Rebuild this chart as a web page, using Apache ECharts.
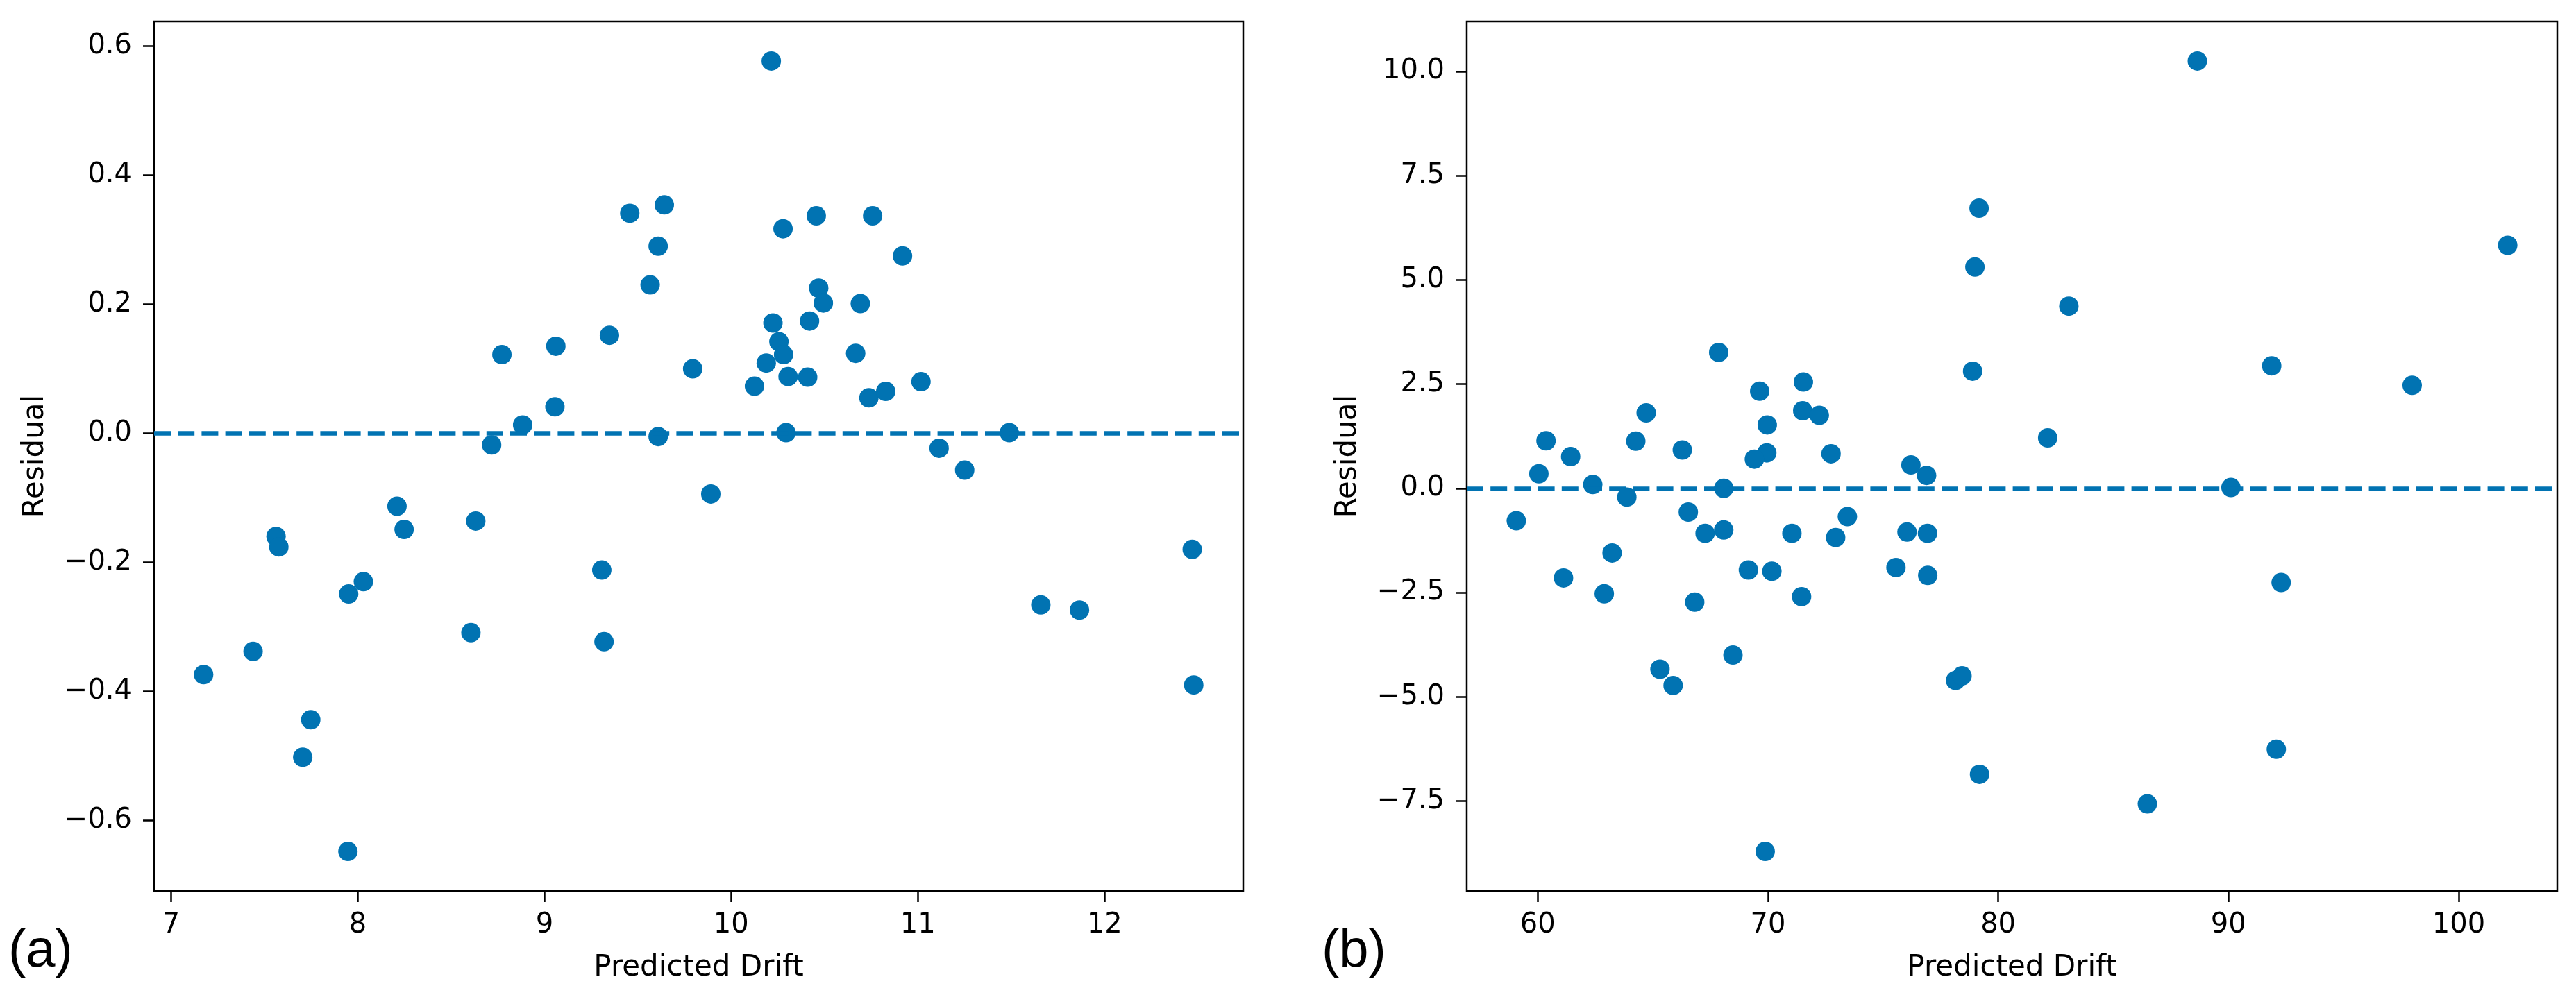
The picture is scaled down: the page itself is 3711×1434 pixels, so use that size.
<!DOCTYPE html>
<html>
<head>
<meta charset="utf-8">
<title>Residual plots</title>
<script src="https://cdn.jsdelivr.net/npm/echarts@6/dist/echarts.min.js"></script>
<style>
  html, body { margin: 0; padding: 0; background: #fff; }
  #main { width: 3711px; height: 1434px; }
</style>
</head>
<body>
<div id="main"></div>
<script>
// (a) predicted drift vs residual
var predA = [8.772, 9.061, 8.883, 9.056, 8.717, 9.348, 9.457, 9.642, 9.609, 9.566,
  9.609, 10.215, 10.278, 10.456, 10.758, 10.918, 10.469, 10.494, 10.692, 10.224,
  10.42, 10.256, 10.281, 10.188, 9.794, 10.305, 10.41, 10.125, 10.667, 11.017,
  10.738, 10.828, 10.294, 11.49, 11.114, 11.251, 9.891, 12.47, 11.659, 11.866,
  12.478, 8.21, 8.248, 8.632, 7.562, 7.577, 9.307, 8.03, 7.951, 8.606,
  9.319, 7.439, 7.174, 7.748, 7.705, 7.947];
var residA = [0.122, 0.135, 0.013, 0.041, -0.018, 0.152, 0.341, 0.354, 0.290, 0.230,
  -0.005, 0.577, 0.317, 0.337, 0.337, 0.275, 0.225, 0.202, 0.201, 0.171,
  0.174, 0.142, 0.122, 0.109, 0.100, 0.088, 0.087, 0.073, 0.124, 0.080,
  0.055, 0.065, 0.001, 0.001, -0.023, -0.057, -0.094, -0.180, -0.266, -0.274,
  -0.390, -0.113, -0.149, -0.136, -0.160, -0.176, -0.212, -0.230, -0.249, -0.309,
  -0.323, -0.338, -0.374, -0.444, -0.502, -0.648];

// (b)
var predB = [67.86, 71.54, 69.64, 64.71, 71.51, 72.23, 69.97, 60.36, 64.26, 66.28,
  61.43, 69.95, 69.41, 72.74, 60.05, 76.21, 76.89, 62.39, 63.87, 68.08,
  59.07, 66.54, 67.27, 68.08, 71.04, 72.94, 73.45, 76.04, 76.93, 75.56,
  76.94, 63.23, 61.12, 69.15, 70.17, 62.89, 66.82, 71.46, 68.48, 65.31,
  65.88, 69.88, 88.65, 79.17, 78.99, 102.13, 83.07, 78.89, 91.88, 97.98,
  82.15, 90.11, 92.29, 78.15, 78.43, 79.19, 92.08, 86.48];
var residB = [3.26, 2.55, 2.33, 1.81, 1.86, 1.75, 1.52, 1.14, 1.13, 0.92,
  0.76, 0.85, 0.70, 0.83, 0.35, 0.56, 0.31, 0.09, -0.21, 0.0,
  -0.78, -0.57, -1.08, -1.0, -1.08, -1.18, -0.68, -1.05, -1.08, -1.90,
  -2.09, -1.55, -2.15, -1.96, -1.99, -2.53, -2.73, -2.60, -4.0, -4.34,
  -4.73, -8.71, 10.25, 6.72, 5.31, 5.83, 4.37, 2.81, 2.94, 2.47,
  1.21, 0.02, -2.26, -4.61, -4.50, -6.86, -6.26, -7.57];

var xTicksA = [7, 8, 9, 10, 11, 12];
var yTicksA = [-0.6, -0.4, -0.2, 0, 0.2, 0.4, 0.6];
var xTicksB = [60, 70, 80, 90, 100];
var yTicksB = [-7.5, -5, -2.5, 0, 2.5, 5, 7.5, 10];

var blue = '#0173b2';
var font = 'DejaVu Sans';

function zip(xs, ys) {
  var out = [];
  for (var i = 0; i < xs.length; i++) out.push([xs[i], ys[i]]);
  return out;
}
// matplotlib style 5% padding
function pad(arr) {
  var lo = Math.min.apply(null, arr), hi = Math.max.apply(null, arr);
  var m = (hi - lo) * 0.05;
  return [lo - m, hi + m];
}
function fmt1(v) { return Number(v).toFixed(1).replace('-', '\u2212'); }
function fmt0(v) { return String(Math.round(v)).replace('-', '\u2212'); }

function xAx(idx, ticks, range) {
  return {
    type: 'value', gridIndex: idx, min: range[0], max: range[1],
    name: 'Predicted Drift', nameLocation: 'middle', nameGap: 90,
    nameTextStyle: { fontFamily: font, fontSize: 42, color: '#000' },
    axisLine: { show: false, onZero: false },
    axisTick: { show: true, length: 16, lineStyle: { color: '#000', width: 2.5 }, customValues: ticks },
    axisLabel: { fontFamily: font, fontSize: 40, color: '#000', margin: 30, customValues: ticks, formatter: fmt0 },
    splitLine: { show: false }
  };
}
function yAx(idx, ticks, range) {
  return {
    type: 'value', gridIndex: idx, min: range[0], max: range[1],
    name: 'Residual', nameLocation: 'middle', nameGap: 150,
    nameTextStyle: { fontFamily: font, fontSize: 42, color: '#000' },
    axisLine: { show: false, onZero: false },
    axisTick: { show: true, length: 16, lineStyle: { color: '#000', width: 2.5 }, customValues: ticks },
    axisLabel: { fontFamily: font, fontSize: 40, color: '#000', margin: 32, customValues: ticks, formatter: fmt1 },
    splitLine: { show: false }
  };
}
function series(idx, data) {
  return {
    type: 'scatter', xAxisIndex: idx, yAxisIndex: idx,
    data: data, symbolSize: 28,
    itemStyle: { color: blue, opacity: 1 },
    markLine: {
      silent: true, symbol: ['none', 'none'], animation: false,
      label: { show: false },
      lineStyle: { color: blue, width: 6.5, type: [24, 10.2] },
      data: [{ yAxis: 0 }]
    }
  };
}

var myChart = echarts.init(document.getElementById('main'));
var option = {
  backgroundColor: '#fff',
  animation: false,
  grid: [
    { left: 222, top: 31, width: 1569, height: 1253, show: true, borderColor: '#000', borderWidth: 2.5, backgroundColor: 'transparent' },
    { left: 2113, top: 31, width: 1571, height: 1253, show: true, borderColor: '#000', borderWidth: 2.5, backgroundColor: 'transparent' }
  ],
  xAxis: [xAx(0, xTicksA, pad(predA)), xAx(1, xTicksB, pad(predB))],
  yAxis: [yAx(0, yTicksA, pad(residA)), yAx(1, yTicksB, pad(residB))],
  series: [series(0, zip(predA, residA)), series(1, zip(predB, residB))],
  graphic: [
    { type: 'text', left: 12, top: 1334, style: { text: '(a)', fontFamily: 'Liberation Sans', fontSize: 76, fill: '#000' } },
    { type: 'text', left: 1904, top: 1334, style: { text: '(b)', fontFamily: 'Liberation Sans', fontSize: 76, fill: '#000' } }
  ]
};
myChart.setOption(option);
</script>
</body>
</html>
